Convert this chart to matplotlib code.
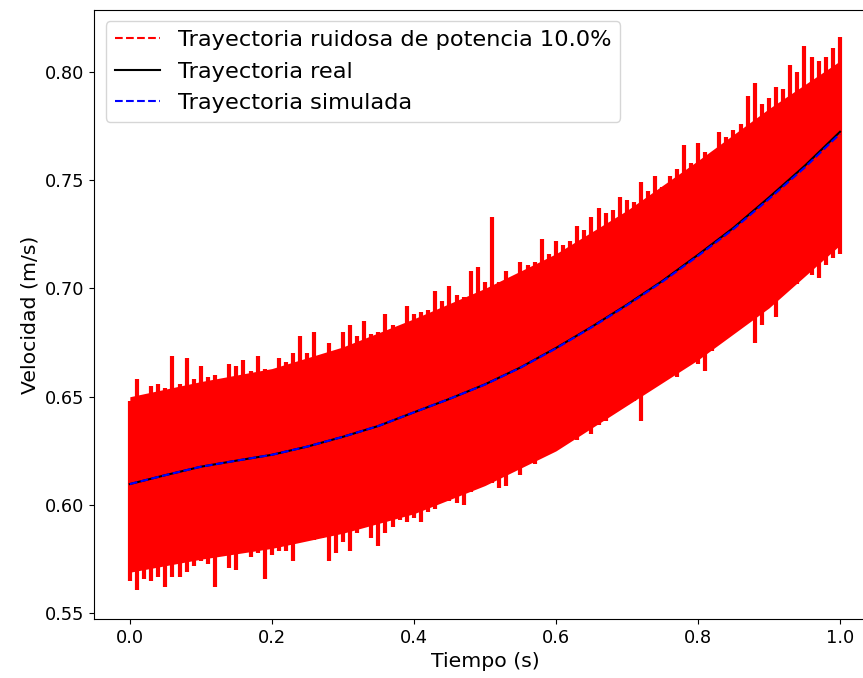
import numpy as np
import matplotlib.pyplot as plt
from matplotlib.lines import Line2D

# --- DATOS ---
# tiempo de las trayectorias suaves
t_suave = [0.00, 0.05, 0.10, 0.15, 0.20, 0.25, 0.30, 0.35, 0.40, 0.45, 0.50,
           0.55, 0.60, 0.65, 0.70, 0.75, 0.80, 0.85, 0.90, 0.95, 1.00]
v_real = [0.6097, 0.6138, 0.6177, 0.6205, 0.6232, 0.6270, 0.6315, 0.6365, 0.6428,
          0.6490, 0.6557, 0.6635, 0.6725, 0.6822, 0.6925, 0.7035, 0.7155, 0.7280,
          0.7420, 0.7565, 0.7723]
v_simulada = [0.6097, 0.6138, 0.6177, 0.6205, 0.6232, 0.6270, 0.6315, 0.6365, 0.6428,
              0.6490, 0.6556, 0.6634, 0.6723, 0.6820, 0.6922, 0.7031, 0.7150, 0.7274,
              0.7413, 0.7557, 0.7714]

# banda principal de la señal ruidosa (paso 0.1 s)
t_banda = [0.0, 0.1, 0.2, 0.3, 0.4, 0.5, 0.6, 0.7, 0.8, 0.9, 1.0]
banda_sup = [0.650, 0.657, 0.663, 0.673, 0.686, 0.700, 0.716, 0.736, 0.759, 0.783, 0.805]
banda_inf = [0.569, 0.575, 0.580, 0.587, 0.596, 0.609, 0.625, 0.646, 0.667, 0.691, 0.720]

# picos extremos de la trayectoria ruidosa (paso 0.01 s)
t_ruido = np.round(np.arange(0, 101) * 0.01, 2)
v_ruido_sup = [
    0.648, 0.658, 0.651, 0.655, 0.656, 0.654, 0.669, 0.656, 0.668, 0.658,
    0.664, 0.659, 0.660, 0.658, 0.665, 0.664, 0.667, 0.662, 0.669, 0.663,
    0.662, 0.668, 0.666, 0.670, 0.678, 0.670, 0.680, 0.669, 0.675, 0.671,
    0.680, 0.683, 0.678, 0.685, 0.679, 0.680, 0.688, 0.683, 0.682, 0.692,
    0.688, 0.689, 0.690, 0.699, 0.694, 0.701, 0.697, 0.696, 0.708, 0.710,
    0.703, 0.733, 0.703, 0.708, 0.705, 0.712, 0.711, 0.712, 0.723, 0.716,
    0.722, 0.720, 0.722, 0.729, 0.727, 0.733, 0.737, 0.735, 0.736, 0.742,
    0.741, 0.740, 0.749, 0.745, 0.752, 0.747, 0.752, 0.755, 0.766, 0.758,
    0.767, 0.763, 0.761, 0.772, 0.770, 0.773, 0.776, 0.789, 0.795, 0.785,
    0.788, 0.793, 0.792, 0.803, 0.800, 0.812, 0.807, 0.805, 0.807, 0.811,
    0.816]
v_ruido_inf = [
    0.565, 0.561, 0.566, 0.565, 0.567, 0.562, 0.567, 0.567, 0.569, 0.572,
    0.574, 0.573, 0.562, 0.579, 0.571, 0.570, 0.578, 0.576, 0.578, 0.566,
    0.577, 0.579, 0.579, 0.574, 0.585, 0.586, 0.584, 0.585, 0.574, 0.578,
    0.583, 0.579, 0.587, 0.592, 0.585, 0.581, 0.587, 0.590, 0.593, 0.592,
    0.594, 0.592, 0.597, 0.598, 0.604, 0.602, 0.601, 0.600, 0.606, 0.608,
    0.610, 0.610, 0.608, 0.609, 0.616, 0.614, 0.619, 0.619, 0.625, 0.624,
    0.626, 0.634, 0.632, 0.630, 0.634, 0.633, 0.637, 0.639, 0.644, 0.647,
    0.646, 0.648, 0.639, 0.654, 0.658, 0.662, 0.663, 0.659, 0.664, 0.667,
    0.665, 0.662, 0.671, 0.678, 0.684, 0.684, 0.689, 0.690, 0.675, 0.683,
    0.695, 0.687, 0.705, 0.700, 0.702, 0.710, 0.706, 0.705, 0.711, 0.714,
    0.716]

etiqueta_ruido = 'Trayectoria ruidosa de potencia 10.0%'

# --- VISUALIZACIÓN ---
fig = plt.figure(figsize=(8.63, 6.78), dpi=100)
ax = fig.add_axes([0.1093, 0.087, 0.9052, 0.8982])

ax.fill_between(t_banda, banda_inf, banda_sup, color='red', lw=0)
ax.vlines(t_ruido, v_ruido_inf, v_ruido_sup, color='red', lw=3)
ax.plot(t_suave, v_real, color='black', lw=1.5)
ax.plot(t_suave, v_simulada, 'b--', lw=1.5)

handles = [Line2D([], [], color='red', ls='--', lw=1.5),
           Line2D([], [], color='black', lw=1.5),
           Line2D([], [], color='blue', ls='--', lw=1.5)]
labels = [etiqueta_ruido, 'Trayectoria real', 'Trayectoria simulada']
ax.legend(handles, labels, loc='upper left', fontsize=16.2)

ax.set_xlim(-0.05, 1.05)
ax.set_ylim(0.5474, 0.8285)
ax.set_xticks([0.0, 0.2, 0.4, 0.6, 0.8, 1.0])
ax.set_yticks([0.55, 0.60, 0.65, 0.70, 0.75, 0.80])
ax.tick_params(labelsize=12.8)
ax.set_xlabel('Tiempo (s)', fontsize=14.7)
ax.set_ylabel('Velocidad (m/s)', fontsize=14.7)

fig.savefig('out.png', dpi=100)
